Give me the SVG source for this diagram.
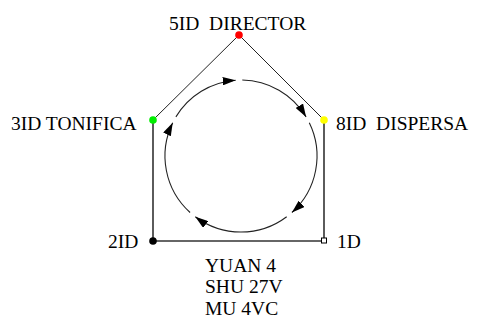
<svg xmlns="http://www.w3.org/2000/svg" width="477" height="320" viewBox="0 0 477 320">
<style>
  .lbl { font-family: "Liberation Serif", "Times New Roman", serif; font-size: 19.5px; fill: #000; white-space: pre; }
  .edge { stroke: #222; stroke-width: 1; fill: none; }
  .edge2 { stroke: #333; stroke-width: 1.6; fill: none; }
  .flow { stroke: #222; stroke-width: 1.1; fill: none; marker-end: url(#arr); }
</style>
<defs>
  <marker id="arr" viewBox="0 0 10 7" refX="10" refY="3.5" markerUnits="userSpaceOnUse" markerWidth="13" markerHeight="8.5" orient="auto" preserveAspectRatio="none">
    <path d="M0,0 L10,3.5 L0,7 z" fill="#000"/>
  </marker>
</defs>
<rect width="477" height="320" fill="#fff"/>
<g id="connectors">
  <line class="edge" x1="239" y1="35" x2="153" y2="120"/>
  <line class="edge" x1="239" y1="35" x2="324" y2="120"/>
  <line class="edge2" x1="153" y1="120" x2="153" y2="241"/>
  <line class="edge2" x1="324" y1="120" x2="324" y2="241"/>
  <line class="edge2" x1="153" y1="241" x2="324" y2="241"/>
  <path class="flow" d="M175.9,116.9 A76,76 0 0 1 235.7,80.2"/>
  <path class="flow" d="M242.3,80.0 A76,76 0 0 1 306.1,116.9"/>
  <path class="flow" d="M309.3,122.7 A76,76 0 0 1 291.9,212.5"/>
  <path class="flow" d="M286.7,216.7 A76,76 0 0 1 195.3,216.7"/>
  <path class="flow" d="M190.1,212.5 A76,76 0 0 1 172.7,122.7"/>
</g>
<g id="node-5ID">
  <circle cx="239" cy="35" r="3.8" fill="#ff0000"/>
  <text class="lbl" x="169" y="30">5ID  DIRECTOR</text>
</g>
<g id="node-3ID">
  <circle cx="153" cy="120" r="3.8" fill="#00ee00"/>
  <text class="lbl" x="11" y="130">3ID TONIFICA</text>
</g>
<g id="node-8ID">
  <circle cx="324" cy="120" r="3.8" fill="#ffff00"/>
  <text class="lbl" x="336" y="130">8ID  DISPERSA</text>
</g>
<g id="node-2ID">
  <circle cx="153" cy="241" r="3.8" fill="#000"/>
  <text class="lbl" x="108" y="248">2ID</text>
</g>
<g id="node-1D">
  <rect x="321.5" y="238" width="5" height="5" fill="#fff" stroke="#000" stroke-width="1"/>
  <text class="lbl" x="337" y="248">1D</text>
</g>
<g id="caption">
  <text class="lbl" x="205" y="272">YUAN 4</text>
  <text class="lbl" x="205" y="293">SHU 27V</text>
  <text class="lbl" x="205" y="315">MU 4VC</text>
</g>
</svg>
